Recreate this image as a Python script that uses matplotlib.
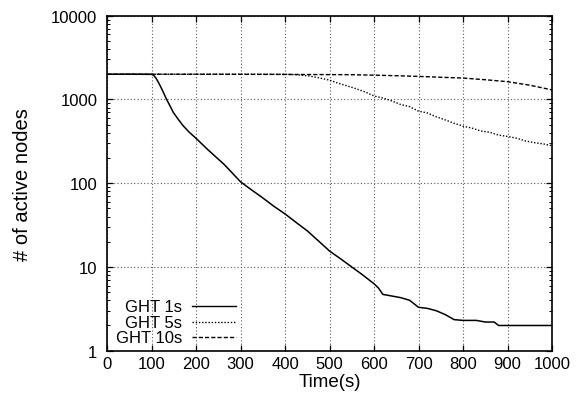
import numpy as np
import matplotlib
matplotlib.use('Agg')
import matplotlib.pyplot as plt
from matplotlib.ticker import FixedLocator, LogLocator, NullFormatter

plt.rcParams['font.family'] = ['Liberation Sans', 'DejaVu Sans']

# GHT 1s
t1 = [0, 50, 100, 105, 110, 115, 120, 125, 134, 142, 149, 160, 171, 185, 200,
      225, 250, 262, 275, 300, 325, 348, 375, 400, 425, 450, 475, 500, 525,
      550, 575, 600, 610, 620, 640, 660, 680, 700, 720, 740, 760, 780, 800,
      830, 850, 870, 880, 900, 1000]
y1 = [2000, 2000, 1995, 1940, 1800, 1620, 1440, 1270, 1000, 830, 700, 580, 486, 405, 344,
      256, 194, 170, 144, 104, 83, 68, 53, 43, 34, 27, 20.5, 15.5, 12.5,
      10, 8.0, 6.3, 5.6, 4.7, 4.5, 4.3, 4.0, 3.3, 3.2, 3.0, 2.7, 2.35, 2.3,
      2.3, 2.2, 2.2, 2.0, 2.0, 2.0]

# GHT 5s
t5 = [0, 100, 200, 300, 400, 425, 450, 475, 500, 520, 540, 560, 580, 600, 620,
      640, 660, 680, 700, 720, 740, 760, 780, 800, 820, 840, 860, 880, 900,
      920, 940, 960, 980, 1000]
y5 = [2000, 2000, 2000, 2000, 1995, 1975, 1920, 1820, 1700, 1560, 1450, 1340, 1230, 1100, 1040,
      960, 870, 820, 725, 690, 620, 570, 520, 480, 455, 420, 405, 375, 362,
      345, 320, 305, 295, 280]

# GHT 10s
t10 = [0, 200, 400, 550, 600, 650, 700, 750, 800, 850, 900, 950, 1000]
y10 = [2000, 2000, 1990, 1975, 1950, 1920, 1885, 1840, 1800, 1720, 1630, 1480, 1300]

fig = plt.figure(figsize=(5.8, 4.02), dpi=100)
ax = fig.add_axes([107 / 580, 50.3 / 402, 445 / 580, 335 / 402])

ax.plot(t1, y1, color='black', lw=1.1, ls='-')
ax.plot(t5, y5, color='black', lw=1.0, ls=(0, (1, 1.3)))
ax.plot(t10, y10, color='black', lw=1.0, ls=(0, (3, 1.5)))

ax.set_yscale('log')
ax.set_xlim(0, 1000)
ax.set_ylim(1, 10000)
ax.set_xticks(range(0, 1001, 100))
ax.yaxis.set_major_locator(FixedLocator([1, 10, 100, 1000, 10000]))
ax.set_yticklabels(['1', '10', '100', '1000', '10000'])
ax.yaxis.set_minor_locator(LogLocator(base=10, subs=np.arange(2, 10)))
ax.yaxis.set_minor_formatter(NullFormatter())

ax.tick_params(which='both', direction='in', top=True, right=True, labelsize=12)
ax.tick_params(which='major', length=4.5, width=0.9)
ax.tick_params(axis='y', which='major', pad=7)
ax.tick_params(which='minor', length=2.5, width=0.7)
ax.grid(True, which='major', ls=(0, (1, 2)), color='0.35', lw=0.8)
for s in ax.spines.values():
    s.set_linewidth(1.2)

ax.set_xlabel('Time(s)', fontsize=13.5, labelpad=2)
ax.set_ylabel('# of active nodes', fontsize=14.5, labelpad=14)

# gnuplot style key: text right aligned, sample on the right
names = ['GHT 1s', 'GHT 5s', 'GHT 10s']
styles = ['-', (0, (1, 1.3)), (0, (3, 1.5))]
ys = [0.1325, 0.0848, 0.040]
for n, st, yy in zip(names, styles, ys):
    ax.text(0.168, yy, n, transform=ax.transAxes, ha='right', va='center', fontsize=12)
    ax.plot([0.190, 0.289], [yy, yy], transform=ax.transAxes, color='black', lw=1.0, ls=st)

fig.savefig('out.png', dpi=100)
